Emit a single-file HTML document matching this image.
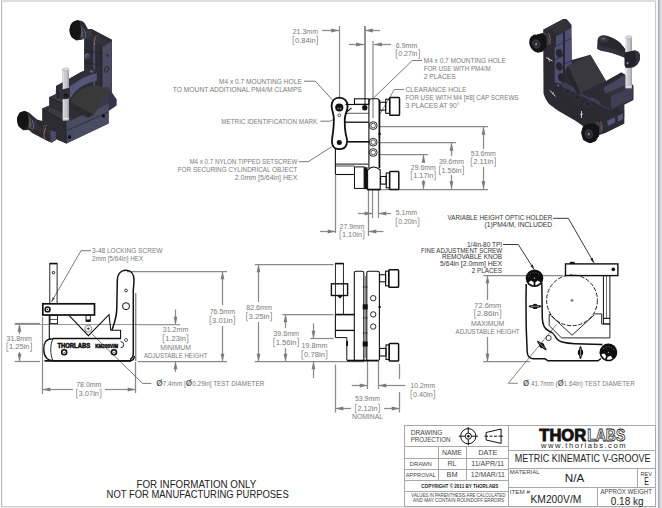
<!DOCTYPE html>
<html><head><meta charset="utf-8"><style>
html,body{margin:0;padding:0;background:#fff;width:662px;height:508px;overflow:hidden;}
svg{display:block;font-family:"Liberation Sans",sans-serif;}
</style></head><body>
<svg width="662" height="508" viewBox="0 0 662 508" font-family="Liberation Sans, sans-serif"><rect x="1" y="0" width="661" height="2" fill="#dedede"/>
<rect x="1" y="1" width="1" height="506" fill="#bdbdbd"/>
<rect x="2" y="2" width="1" height="504" fill="#f0f0f0"/>
<rect x="1" y="506" width="661" height="1" fill="#d0d0d0"/>
<rect x="1" y="507" width="661" height="1" fill="#e8e8e8"/>
<rect x="655" y="2" width="1" height="504" fill="#c8c8c8"/>
<rect x="656" y="0" width="2" height="508" fill="#fafafa"/>
<rect x="658" y="0" width="1" height="508" fill="#a9a9b1"/>
<rect x="659" y="0" width="1" height="508" fill="#c4c4cc"/>
<rect x="660" y="0" width="1" height="508" fill="#d4d4dc"/>
<rect x="661" y="0" width="1" height="508" fill="#e2e2ea"/>
<line x1="339.5" y1="26" x2="339.5" y2="99" stroke="#8a8a8a" stroke-width="1.25" />
<line x1="365" y1="26" x2="365" y2="104" stroke="#777" stroke-width="1.6" />
<line x1="373" y1="41" x2="373" y2="118" stroke="#b4b4b4" stroke-width="1.9" />
<line x1="322" y1="30.5" x2="339" y2="30.5" stroke="#8a8a8a" stroke-width="1.25" />
<polygon points="339,30.5 331.2,32.4 331.2,28.6" fill="#7c7c7c" stroke="none" stroke-width="1" />
<line x1="365" y1="30.5" x2="380" y2="30.5" stroke="#8a8a8a" stroke-width="1.25" />
<polygon points="365,30.5 372.8,28.6 372.8,32.4" fill="#7c7c7c" stroke="none" stroke-width="1" />
<text x="292.7" y="33.50" font-size="6.4" fill="#7a7a7a" text-anchor="start" font-weight="normal" textLength="25.3" lengthAdjust="spacingAndGlyphs" >21.3mm</text>
<polyline points="294.7,36.1 293.09999999999997,36.1 293.09999999999997,44.699999999999996 294.7,44.699999999999996" stroke="#8c8c8c" stroke-width="0.75" fill="none" />
<polyline points="316.0,36.1 317.6,36.1 317.6,44.699999999999996 316.0,44.699999999999996" stroke="#8c8c8c" stroke-width="0.75" fill="none" />
<text x="295.09999999999997" y="42.60" font-size="6.4" fill="#7a7a7a" text-anchor="start" font-weight="normal" textLength="20.5" lengthAdjust="spacingAndGlyphs" >0.84in</text>
<line x1="349" y1="44.5" x2="364" y2="44.5" stroke="#8a8a8a" stroke-width="1.25" />
<polygon points="364,44.5 356.2,46.4 356.2,42.6" fill="#7c7c7c" stroke="none" stroke-width="1" />
<line x1="374" y1="44.5" x2="391" y2="44.5" stroke="#8a8a8a" stroke-width="1.25" />
<polygon points="374,44.5 381.8,42.6 381.8,46.4" fill="#7c7c7c" stroke="none" stroke-width="1" />
<text x="395.8" y="47.60" font-size="6.4" fill="#7a7a7a" text-anchor="start" font-weight="normal" textLength="21.5" lengthAdjust="spacingAndGlyphs" >6.9mm</text>
<polyline points="397.8,49.7 396.2,49.7 396.2,58.3 397.8,58.3" stroke="#8c8c8c" stroke-width="0.75" fill="none" />
<polyline points="418.0,49.7 419.6,49.7 419.6,58.3 418.0,58.3" stroke="#8c8c8c" stroke-width="0.75" fill="none" />
<text x="398.2" y="56.20" font-size="6.4" fill="#7a7a7a" text-anchor="start" font-weight="normal" textLength="19.4" lengthAdjust="spacingAndGlyphs" >0.27in</text>
<text x="423.7" y="62.70" font-size="6.4" fill="#7a7a7a" text-anchor="start" font-weight="normal" textLength="82.1" lengthAdjust="spacingAndGlyphs" >M4 x 0.7 MOUNTING HOLE</text>
<text x="423.7" y="70.70" font-size="6.4" fill="#7a7a7a" text-anchor="start" font-weight="normal" textLength="67" lengthAdjust="spacingAndGlyphs" >FOR USE WITH PM4/M</text>
<text x="423.7" y="78.90" font-size="6.4" fill="#7a7a7a" text-anchor="start" font-weight="normal" textLength="32" lengthAdjust="spacingAndGlyphs" >2 PLACES</text>
<polyline points="422,60.5 412.3,60.5 373.5,98" stroke="#555" stroke-width="0.8" fill="none" />
<text x="405.5" y="91.70" font-size="6.4" fill="#7a7a7a" text-anchor="start" font-weight="normal" textLength="61" lengthAdjust="spacingAndGlyphs" >CLEARANCE HOLE</text>
<text x="405.5" y="100.20" font-size="6.4" fill="#7a7a7a" text-anchor="start" font-weight="normal" textLength="113.1" lengthAdjust="spacingAndGlyphs" >FOR USE WITH M4 [#8] CAP SCREWS</text>
<text x="405.5" y="107.90" font-size="6.4" fill="#7a7a7a" text-anchor="start" font-weight="normal" textLength="54" lengthAdjust="spacingAndGlyphs" >3 PLACES AT 90°</text>
<polyline points="404,89.5 394.4,89.5 379.3,115" stroke="#666" stroke-width="0.8" fill="none" />
<text x="219" y="83.80" font-size="6.4" fill="#7a7a7a" text-anchor="start" font-weight="normal" textLength="82.8" lengthAdjust="spacingAndGlyphs" >M4 x 0.7 MOUNTING HOLE</text>
<text x="172.8" y="91.50" font-size="6.4" fill="#7a7a7a" text-anchor="start" font-weight="normal" textLength="129" lengthAdjust="spacingAndGlyphs" >TO MOUNT ADDITIONAL PM4/M CLAMPS</text>
<polyline points="304,81.2 315.3,81.2 333,100.5" stroke="#555" stroke-width="0.8" fill="none" />
<text x="221.2" y="124.00" font-size="6.4" fill="#7a7a7a" text-anchor="start" font-weight="normal" textLength="96" lengthAdjust="spacingAndGlyphs" >METRIC IDENTIFICATION MARK</text>
<polyline points="320.4,121.2 330,121.2 334.5,119" stroke="#555" stroke-width="0.8" fill="none" />
<text x="189.4" y="163.90" font-size="6.4" fill="#7a7a7a" text-anchor="start" font-weight="normal" textLength="107.9" lengthAdjust="spacingAndGlyphs" >M4 x 0.7 NYLON TIPPED SETSCREW</text>
<text x="177.7" y="172.10" font-size="6.4" fill="#7a7a7a" text-anchor="start" font-weight="normal" textLength="119.6" lengthAdjust="spacingAndGlyphs" >FOR SECURING CYLINDRICAL OBJECT</text>
<text x="234.8" y="180.20" font-size="6.4" fill="#7a7a7a" text-anchor="start" font-weight="normal" textLength="62.5" lengthAdjust="spacingAndGlyphs" >2.0mm [5/64in] HEX</text>
<polyline points="298.7,161.7 308.2,161.7 331.8,146.8" stroke="#555" stroke-width="0.8" fill="none" />
<line x1="380" y1="126.5" x2="488" y2="126.5" stroke="#8a8a8a" stroke-width="1.25" />
<line x1="380" y1="142.5" x2="456" y2="142.5" stroke="#8a8a8a" stroke-width="1.25" />
<line x1="380" y1="154.5" x2="428" y2="154.5" stroke="#8a8a8a" stroke-width="1.25" />
<line x1="381" y1="189.5" x2="488" y2="189.5" stroke="#8a8a8a" stroke-width="1.25" />
<line x1="423.5" y1="154.5" x2="423.5" y2="162" stroke="#8a8a8a" stroke-width="1.25" />
<polygon points="423.5,155 425.4,162.8 421.6,162.8" fill="#7c7c7c" stroke="none" stroke-width="1" />
<line x1="423.5" y1="180" x2="423.5" y2="189" stroke="#8a8a8a" stroke-width="1.25" />
<polygon points="423.5,189 421.6,181.2 425.4,181.2" fill="#7c7c7c" stroke="none" stroke-width="1" />
<text x="410.8" y="169.80" font-size="6.4" fill="#7a7a7a" text-anchor="start" font-weight="normal" textLength="24.9" lengthAdjust="spacingAndGlyphs" >29.6mm</text>
<polyline points="412.8,171.2 411.2,171.2 411.2,179.8 412.8,179.8" stroke="#8c8c8c" stroke-width="0.75" fill="none" />
<polyline points="433.7,171.2 435.3,171.2 435.3,179.8 433.7,179.8" stroke="#8c8c8c" stroke-width="0.75" fill="none" />
<text x="413.2" y="177.70" font-size="6.4" fill="#7a7a7a" text-anchor="start" font-weight="normal" textLength="20.1" lengthAdjust="spacingAndGlyphs" >1.17in</text>
<line x1="451.5" y1="142.5" x2="451.5" y2="156" stroke="#8a8a8a" stroke-width="1.25" />
<polygon points="451.5,143 453.4,150.8 449.6,150.8" fill="#7c7c7c" stroke="none" stroke-width="1" />
<line x1="451.5" y1="175" x2="451.5" y2="189" stroke="#8a8a8a" stroke-width="1.25" />
<polygon points="451.5,189 449.6,181.2 453.4,181.2" fill="#7c7c7c" stroke="none" stroke-width="1" />
<text x="439" y="163.70" font-size="6.4" fill="#7a7a7a" text-anchor="start" font-weight="normal" textLength="25" lengthAdjust="spacingAndGlyphs" >39.6mm</text>
<polyline points="441.0,166.0 439.4,166.0 439.4,174.60000000000002 441.0,174.60000000000002" stroke="#8c8c8c" stroke-width="0.75" fill="none" />
<polyline points="462.0,166.0 463.6,166.0 463.6,174.60000000000002 462.0,174.60000000000002" stroke="#8c8c8c" stroke-width="0.75" fill="none" />
<text x="441.4" y="172.50" font-size="6.4" fill="#7a7a7a" text-anchor="start" font-weight="normal" textLength="20.2" lengthAdjust="spacingAndGlyphs" >1.56in</text>
<line x1="483.5" y1="126.5" x2="483.5" y2="149" stroke="#8a8a8a" stroke-width="1.25" />
<polygon points="483.5,127 485.4,134.8 481.6,134.8" fill="#7c7c7c" stroke="none" stroke-width="1" />
<line x1="483.5" y1="167" x2="483.5" y2="189" stroke="#8a8a8a" stroke-width="1.25" />
<polygon points="483.5,189 481.6,181.2 485.4,181.2" fill="#7c7c7c" stroke="none" stroke-width="1" />
<text x="470.8" y="155.70" font-size="6.4" fill="#7a7a7a" text-anchor="start" font-weight="normal" textLength="25" lengthAdjust="spacingAndGlyphs" >53.6mm</text>
<polyline points="472.8,157.79999999999998 471.2,157.79999999999998 471.2,166.4 472.8,166.4" stroke="#8c8c8c" stroke-width="0.75" fill="none" />
<polyline points="493.8,157.79999999999998 495.40000000000003,157.79999999999998 495.40000000000003,166.4 493.8,166.4" stroke="#8c8c8c" stroke-width="0.75" fill="none" />
<text x="473.2" y="164.30" font-size="6.4" fill="#7a7a7a" text-anchor="start" font-weight="normal" textLength="20.2" lengthAdjust="spacingAndGlyphs" >2.11in</text>
<line x1="335.5" y1="177" x2="335.5" y2="233" stroke="#8a8a8a" stroke-width="1.25" />
<line x1="368.5" y1="190" x2="368.5" y2="236" stroke="#8a8a8a" stroke-width="1.25" />
<line x1="372.5" y1="190" x2="372.5" y2="218" stroke="#8a8a8a" stroke-width="1.25" />
<line x1="378.5" y1="190" x2="378.5" y2="218" stroke="#8a8a8a" stroke-width="1.25" />
<line x1="358" y1="213.5" x2="372" y2="213.5" stroke="#8a8a8a" stroke-width="1.25" />
<polygon points="372.5,213.5 364.7,215.4 364.7,211.6" fill="#7c7c7c" stroke="none" stroke-width="1" />
<line x1="379" y1="213.5" x2="391" y2="213.5" stroke="#8a8a8a" stroke-width="1.25" />
<polygon points="378.5,213.5 386.3,211.6 386.3,215.4" fill="#7c7c7c" stroke="none" stroke-width="1" />
<text x="395.8" y="215.30" font-size="6.4" fill="#7a7a7a" text-anchor="start" font-weight="normal" textLength="21.2" lengthAdjust="spacingAndGlyphs" >5.1mm</text>
<polyline points="397.8,217.89999999999998 396.2,217.89999999999998 396.2,226.5 397.8,226.5" stroke="#8c8c8c" stroke-width="0.75" fill="none" />
<polyline points="417.3,217.89999999999998 418.90000000000003,217.89999999999998 418.90000000000003,226.5 417.3,226.5" stroke="#8c8c8c" stroke-width="0.75" fill="none" />
<text x="398.2" y="224.40" font-size="6.4" fill="#7a7a7a" text-anchor="start" font-weight="normal" textLength="18.7" lengthAdjust="spacingAndGlyphs" >0.20in</text>
<line x1="320" y1="231.5" x2="335" y2="231.5" stroke="#8a8a8a" stroke-width="1.25" />
<polygon points="335.5,231.5 327.7,233.4 327.7,229.6" fill="#7c7c7c" stroke="none" stroke-width="1" />
<line x1="369" y1="231.5" x2="383.4" y2="231.5" stroke="#8a8a8a" stroke-width="1.25" />
<polygon points="368.5,231.5 376.3,229.6 376.3,233.4" fill="#7c7c7c" stroke="none" stroke-width="1" />
<text x="339.6" y="228.90" font-size="6.4" fill="#7a7a7a" text-anchor="start" font-weight="normal" textLength="24.8" lengthAdjust="spacingAndGlyphs" >27.9mm</text>
<polyline points="341.6,230.5 340.0,230.5 340.0,239.10000000000002 341.6,239.10000000000002" stroke="#8c8c8c" stroke-width="0.75" fill="none" />
<polyline points="362.4,230.5 364.00000000000006,230.5 364.00000000000006,239.10000000000002 362.4,239.10000000000002" stroke="#8c8c8c" stroke-width="0.75" fill="none" />
<text x="342.0" y="237.00" font-size="6.4" fill="#7a7a7a" text-anchor="start" font-weight="normal" textLength="20.0" lengthAdjust="spacingAndGlyphs" >1.10in</text>
<text x="92.1" y="252.90" font-size="6.4" fill="#7a7a7a" text-anchor="start" font-weight="normal" textLength="70.3" lengthAdjust="spacingAndGlyphs" >3-48 LOCKING SCREW</text>
<text x="92.1" y="260.60" font-size="6.4" fill="#7a7a7a" text-anchor="start" font-weight="normal" textLength="51" lengthAdjust="spacingAndGlyphs" >2mm [5/64in] HEX</text>
<polyline points="91,250.7 81,250.7 51.5,301.8" stroke="#555" stroke-width="0.8" fill="none" />
<polygon points="51.5,301.8 52.71,297.3 54.79,298.5" fill="#444" stroke="none" stroke-width="1" />
<line x1="14.7" y1="323.5" x2="40" y2="323.5" stroke="#8a8a8a" stroke-width="1.25" />
<line x1="14.7" y1="361.5" x2="40" y2="361.5" stroke="#8a8a8a" stroke-width="1.25" />
<line x1="19.5" y1="324" x2="19.5" y2="334" stroke="#8a8a8a" stroke-width="1.25" />
<polygon points="19.5,324 21.4,331.8 17.6,331.8" fill="#7c7c7c" stroke="none" stroke-width="1" />
<line x1="19.5" y1="352" x2="19.5" y2="361" stroke="#8a8a8a" stroke-width="1.25" />
<polygon points="19.5,361.5 17.6,353.7 21.4,353.7" fill="#7c7c7c" stroke="none" stroke-width="1" />
<text x="6.5" y="341.20" font-size="6.4" fill="#7a7a7a" text-anchor="start" font-weight="normal" textLength="25.5" lengthAdjust="spacingAndGlyphs" >31.8mm</text>
<polyline points="8.5,342.9 6.9,342.9 6.9,351.5 8.5,351.5" stroke="#8c8c8c" stroke-width="0.75" fill="none" />
<polyline points="30.0,342.9 31.6,342.9 31.6,351.5 30.0,351.5" stroke="#8c8c8c" stroke-width="0.75" fill="none" />
<text x="8.9" y="349.40" font-size="6.4" fill="#7a7a7a" text-anchor="start" font-weight="normal" textLength="20.7" lengthAdjust="spacingAndGlyphs" >1.25in</text>
<line x1="42.5" y1="317" x2="42.5" y2="394" stroke="#8a8a8a" stroke-width="1.25" />
<line x1="135.5" y1="362" x2="135.5" y2="393" stroke="#8a8a8a" stroke-width="1.25" />
<line x1="43" y1="389.5" x2="73" y2="389.5" stroke="#8a8a8a" stroke-width="1.25" />
<polygon points="42.5,389.5 50.3,387.6 50.3,391.4" fill="#7c7c7c" stroke="none" stroke-width="1" />
<line x1="105" y1="389.5" x2="135" y2="389.5" stroke="#8a8a8a" stroke-width="1.25" />
<polygon points="135.5,389.5 127.7,391.4 127.7,387.6" fill="#7c7c7c" stroke="none" stroke-width="1" />
<text x="76.2" y="386.70" font-size="6.4" fill="#7a7a7a" text-anchor="start" font-weight="normal" textLength="25.2" lengthAdjust="spacingAndGlyphs" >78.0mm</text>
<polyline points="78.2,389.3 76.60000000000001,389.3 76.60000000000001,397.90000000000003 78.2,397.90000000000003" stroke="#8c8c8c" stroke-width="0.75" fill="none" />
<polyline points="99.4,389.3 101.0,389.3 101.0,397.90000000000003 99.4,397.90000000000003" stroke="#8c8c8c" stroke-width="0.75" fill="none" />
<text x="78.60000000000001" y="395.80" font-size="6.4" fill="#7a7a7a" text-anchor="start" font-weight="normal" textLength="20.4" lengthAdjust="spacingAndGlyphs" >3.07in</text>
<line x1="127" y1="271.5" x2="227" y2="271.5" stroke="#8a8a8a" stroke-width="1.25" />
<line x1="137.7" y1="361.5" x2="227" y2="361.5" stroke="#8a8a8a" stroke-width="1.25" />
<line x1="222.5" y1="272" x2="222.5" y2="305" stroke="#8a8a8a" stroke-width="1.25" />
<polygon points="222.5,271.5 224.4,279.3 220.6,279.3" fill="#7c7c7c" stroke="none" stroke-width="1" />
<line x1="222.5" y1="326" x2="222.5" y2="361" stroke="#8a8a8a" stroke-width="1.25" />
<polygon points="222.5,361.5 220.6,353.7 224.4,353.7" fill="#7c7c7c" stroke="none" stroke-width="1" />
<text x="209.7" y="313.80" font-size="6.4" fill="#7a7a7a" text-anchor="start" font-weight="normal" textLength="25.4" lengthAdjust="spacingAndGlyphs" >76.5mm</text>
<polyline points="211.7,316.0 210.1,316.0 210.1,324.6 211.7,324.6" stroke="#8c8c8c" stroke-width="0.75" fill="none" />
<polyline points="233.1,316.0 234.7,316.0 234.7,324.6 233.1,324.6" stroke="#8c8c8c" stroke-width="0.75" fill="none" />
<text x="212.1" y="322.50" font-size="6.4" fill="#7a7a7a" text-anchor="start" font-weight="normal" textLength="20.6" lengthAdjust="spacingAndGlyphs" >3.01in</text>
<line x1="137.2" y1="324.5" x2="180" y2="324.5" stroke="#8a8a8a" stroke-width="1.25" />
<line x1="175.5" y1="309.5" x2="175.5" y2="324" stroke="#8a8a8a" stroke-width="1.25" />
<polygon points="175.5,324.5 173.6,316.7 177.4,316.7" fill="#7c7c7c" stroke="none" stroke-width="1" />
<line x1="175.5" y1="362" x2="175.5" y2="372" stroke="#8a8a8a" stroke-width="1.25" />
<polygon points="175.5,361.5 177.4,369.3 173.6,369.3" fill="#7c7c7c" stroke="none" stroke-width="1" />
<text x="162.8" y="331.60" font-size="6.4" fill="#7a7a7a" text-anchor="start" font-weight="normal" textLength="25.5" lengthAdjust="spacingAndGlyphs" >31.2mm</text>
<polyline points="164.8,334.4 163.20000000000002,334.4 163.20000000000002,343.0 164.8,343.0" stroke="#8c8c8c" stroke-width="0.75" fill="none" />
<polyline points="186.3,334.4 187.9,334.4 187.9,343.0 186.3,343.0" stroke="#8c8c8c" stroke-width="0.75" fill="none" />
<text x="165.20000000000002" y="340.90" font-size="6.4" fill="#7a7a7a" text-anchor="start" font-weight="normal" textLength="20.7" lengthAdjust="spacingAndGlyphs" >1.23in</text>
<text x="160.3" y="349.70" font-size="6.4" fill="#7a7a7a" text-anchor="start" font-weight="normal" textLength="30.7" lengthAdjust="spacingAndGlyphs" >MINIMUM</text>
<text x="144" y="357.90" font-size="6.4" fill="#7a7a7a" text-anchor="start" font-weight="normal" textLength="63.4" lengthAdjust="spacingAndGlyphs" >ADJUSTABLE HEIGHT</text>
<polyline points="91.6,333.6 142.6,383.4 151.4,383.4" stroke="#555" stroke-width="0.8" fill="none" />
<text x="156.3" y="385.60" font-size="6.4" fill="#7a7a7a" text-anchor="start" font-weight="normal" textLength="108" lengthAdjust="spacingAndGlyphs" ><tspan font-weight="bold" fill="#666" font-size="8.2">Ø</tspan>7.4mm [<tspan font-weight="bold" fill="#666" font-size="8.2">Ø</tspan>0.29in] TEST DIAMETER</text>
<line x1="254.8" y1="264.5" x2="333.6" y2="264.5" stroke="#8a8a8a" stroke-width="1.25" />
<line x1="258.5" y1="265" x2="258.5" y2="302" stroke="#8a8a8a" stroke-width="1.25" />
<polygon points="258.5,264.5 260.4,272.3 256.6,272.3" fill="#7c7c7c" stroke="none" stroke-width="1" />
<line x1="258.5" y1="322" x2="258.5" y2="361" stroke="#8a8a8a" stroke-width="1.25" />
<polygon points="258.5,361.5 256.6,353.7 260.4,353.7" fill="#7c7c7c" stroke="none" stroke-width="1" />
<text x="246.2" y="310.20" font-size="6.4" fill="#7a7a7a" text-anchor="start" font-weight="normal" textLength="25.8" lengthAdjust="spacingAndGlyphs" >82.6mm</text>
<polyline points="248.2,312.3 246.6,312.3 246.6,320.90000000000003 248.2,320.90000000000003" stroke="#8c8c8c" stroke-width="0.75" fill="none" />
<polyline points="270.0,312.3 271.6,312.3 271.6,320.90000000000003 270.0,320.90000000000003" stroke="#8c8c8c" stroke-width="0.75" fill="none" />
<text x="248.6" y="318.80" font-size="6.4" fill="#7a7a7a" text-anchor="start" font-weight="normal" textLength="21.0" lengthAdjust="spacingAndGlyphs" >3.25in</text>
<line x1="282.4" y1="314.5" x2="333.6" y2="314.5" stroke="#8a8a8a" stroke-width="1.25" />
<line x1="285.5" y1="315" x2="285.5" y2="328" stroke="#8a8a8a" stroke-width="1.25" />
<polygon points="285.5,314.5 287.4,322.3 283.6,322.3" fill="#7c7c7c" stroke="none" stroke-width="1" />
<line x1="285.5" y1="348" x2="285.5" y2="361" stroke="#8a8a8a" stroke-width="1.25" />
<polygon points="285.5,361.5 283.6,353.7 287.4,353.7" fill="#7c7c7c" stroke="none" stroke-width="1" />
<text x="273.3" y="336.00" font-size="6.4" fill="#7a7a7a" text-anchor="start" font-weight="normal" textLength="25.7" lengthAdjust="spacingAndGlyphs" >39.6mm</text>
<polyline points="275.3,338.09999999999997 273.7,338.09999999999997 273.7,346.7 275.3,346.7" stroke="#8c8c8c" stroke-width="0.75" fill="none" />
<polyline points="297.0,338.09999999999997 298.6,338.09999999999997 298.6,346.7 297.0,346.7" stroke="#8c8c8c" stroke-width="0.75" fill="none" />
<text x="275.7" y="344.60" font-size="6.4" fill="#7a7a7a" text-anchor="start" font-weight="normal" textLength="20.9" lengthAdjust="spacingAndGlyphs" >1.56in</text>
<line x1="310.2" y1="338.5" x2="333.6" y2="338.5" stroke="#8a8a8a" stroke-width="1.25" />
<line x1="313.5" y1="323.5" x2="313.5" y2="338" stroke="#8a8a8a" stroke-width="1.25" />
<polygon points="313.5,338.5 311.6,330.7 315.4,330.7" fill="#7c7c7c" stroke="none" stroke-width="1" />
<line x1="313.5" y1="362" x2="313.5" y2="378" stroke="#8a8a8a" stroke-width="1.25" />
<polygon points="313.5,361.5 315.4,369.3 311.6,369.3" fill="#7c7c7c" stroke="none" stroke-width="1" />
<text x="301.6" y="348.30" font-size="6.4" fill="#7a7a7a" text-anchor="start" font-weight="normal" textLength="25.8" lengthAdjust="spacingAndGlyphs" >19.8mm</text>
<polyline points="303.6,350.5 302.0,350.5 302.0,359.1 303.6,359.1" stroke="#8c8c8c" stroke-width="0.75" fill="none" />
<polyline points="325.4,350.5 327.00000000000006,350.5 327.00000000000006,359.1 325.4,359.1" stroke="#8c8c8c" stroke-width="0.75" fill="none" />
<text x="304.0" y="357.00" font-size="6.4" fill="#7a7a7a" text-anchor="start" font-weight="normal" textLength="21.0" lengthAdjust="spacingAndGlyphs" >0.78in</text>
<line x1="254.8" y1="361.5" x2="364" y2="361.5" stroke="#8a8a8a" stroke-width="1.25" />
<line x1="335.5" y1="364.6" x2="335.5" y2="412.6" stroke="#8a8a8a" stroke-width="1.25" />
<line x1="367.5" y1="361" x2="367.5" y2="389" stroke="#8a8a8a" stroke-width="1.25" />
<line x1="378.5" y1="361" x2="378.5" y2="389" stroke="#8a8a8a" stroke-width="1.25" />
<line x1="399.5" y1="364" x2="399.5" y2="379" stroke="#8a8a8a" stroke-width="1.25" />
<line x1="399.5" y1="392" x2="399.5" y2="412.6" stroke="#8a8a8a" stroke-width="1.25" />
<line x1="351.7" y1="385.5" x2="367" y2="385.5" stroke="#8a8a8a" stroke-width="1.25" />
<polygon points="367.5,385.5 359.7,387.4 359.7,383.6" fill="#7c7c7c" stroke="none" stroke-width="1" />
<line x1="379" y1="385.5" x2="405.2" y2="385.5" stroke="#8a8a8a" stroke-width="1.25" />
<polygon points="378.5,385.5 386.3,383.6 386.3,387.4" fill="#7c7c7c" stroke="none" stroke-width="1" />
<text x="410.6" y="388.20" font-size="6.4" fill="#7a7a7a" text-anchor="start" font-weight="normal" textLength="24.5" lengthAdjust="spacingAndGlyphs" >10.2mm</text>
<polyline points="412.6,390.2 411.0,390.2 411.0,398.8 412.6,398.8" stroke="#8c8c8c" stroke-width="0.75" fill="none" />
<polyline points="433.1,390.2 434.70000000000005,390.2 434.70000000000005,398.8 433.1,398.8" stroke="#8c8c8c" stroke-width="0.75" fill="none" />
<text x="413.0" y="396.70" font-size="6.4" fill="#7a7a7a" text-anchor="start" font-weight="normal" textLength="19.7" lengthAdjust="spacingAndGlyphs" >0.40in</text>
<line x1="336" y1="408.5" x2="351" y2="408.5" stroke="#8a8a8a" stroke-width="1.25" />
<polygon points="335.5,408.5 343.3,406.6 343.3,410.4" fill="#7c7c7c" stroke="none" stroke-width="1" />
<line x1="384" y1="408.5" x2="399" y2="408.5" stroke="#8a8a8a" stroke-width="1.25" />
<polygon points="399.5,408.5 391.7,410.4 391.7,406.6" fill="#7c7c7c" stroke="none" stroke-width="1" />
<text x="367.5" y="401.20" font-size="6.4" fill="#7a7a7a" text-anchor="middle" font-weight="normal" textLength="25" lengthAdjust="spacingAndGlyphs" >53.9mm</text>
<polyline points="357.0,404.09999999999997 355.4,404.09999999999997 355.4,412.7 357.0,412.7" stroke="#8c8c8c" stroke-width="0.75" fill="none" />
<polyline points="378.0,404.09999999999997 379.6,404.09999999999997 379.6,412.7 378.0,412.7" stroke="#8c8c8c" stroke-width="0.75" fill="none" />
<text x="357.4" y="410.60" font-size="6.4" fill="#7a7a7a" text-anchor="start" font-weight="normal" textLength="20.2" lengthAdjust="spacingAndGlyphs" >2.12in</text>
<text x="367.5" y="419.00" font-size="6.4" fill="#7a7a7a" text-anchor="middle" font-weight="normal" textLength="31" lengthAdjust="spacingAndGlyphs" >NOMINAL</text>
<text x="447.5" y="219.90" font-size="6.4" fill="#333" text-anchor="start" font-weight="normal" textLength="104.7" lengthAdjust="spacingAndGlyphs" >VARIABLE HEIGHT OPTIC HOLDER</text>
<text x="484.5" y="226.90" font-size="6.4" fill="#333" text-anchor="start" font-weight="normal" textLength="67.7" lengthAdjust="spacingAndGlyphs" >(1)PM4/M, INCLUDED</text>
<polyline points="553.2,218.3 568.3,218.3 594,262.9" stroke="#222" stroke-width="0.9" fill="none" />
<polygon points="594,262.9 590.29,259.27 592.72,257.87" fill="#222" stroke="none" stroke-width="1" />
<text x="502" y="246.70" font-size="6.4" fill="#333" text-anchor="end" font-weight="normal" textLength="35" lengthAdjust="spacingAndGlyphs" >1/4in-80 TPI</text>
<text x="502" y="252.70" font-size="6.4" fill="#333" text-anchor="end" font-weight="normal" textLength="81" lengthAdjust="spacingAndGlyphs" >FINE ADJUSTMENT SCREW</text>
<text x="502" y="259.40" font-size="6.4" fill="#333" text-anchor="end" font-weight="normal" textLength="60" lengthAdjust="spacingAndGlyphs" >REMOVABLE KNOB</text>
<text x="502" y="266.40" font-size="6.4" fill="#333" text-anchor="end" font-weight="normal" textLength="62" lengthAdjust="spacingAndGlyphs" >5/64in [2.0mm] HEX</text>
<text x="502" y="272.80" font-size="6.4" fill="#333" text-anchor="end" font-weight="normal" textLength="30.2" lengthAdjust="spacingAndGlyphs" >2 PLACES</text>
<polyline points="503,244.5 518.3,244.5 534.2,269.5" stroke="#222" stroke-width="0.9" fill="none" />
<polygon points="534.2,269.5 530.34,266.03 532.7,264.53" fill="#222" stroke="none" stroke-width="1" />
<line x1="483.3" y1="275.5" x2="563" y2="275.5" stroke="#8a8a8a" stroke-width="1.25" />
<line x1="483.3" y1="361.5" x2="530" y2="361.5" stroke="#8a8a8a" stroke-width="1.25" />
<line x1="487.5" y1="276" x2="487.5" y2="300" stroke="#8a8a8a" stroke-width="1.25" />
<polygon points="487.5,275.5 489.4,283.3 485.6,283.3" fill="#7c7c7c" stroke="none" stroke-width="1" />
<line x1="487.5" y1="337" x2="487.5" y2="361" stroke="#8a8a8a" stroke-width="1.25" />
<polygon points="487.5,361.5 485.6,353.7 489.4,353.7" fill="#7c7c7c" stroke="none" stroke-width="1" />
<text x="474.3" y="307.50" font-size="6.4" fill="#7a7a7a" text-anchor="start" font-weight="normal" textLength="26.9" lengthAdjust="spacingAndGlyphs" >72.6mm</text>
<polyline points="476.3,309.7 474.7,309.7 474.7,318.3 476.3,318.3" stroke="#8c8c8c" stroke-width="0.75" fill="none" />
<polyline points="499.2,309.7 500.8,309.7 500.8,318.3 499.2,318.3" stroke="#8c8c8c" stroke-width="0.75" fill="none" />
<text x="476.7" y="316.20" font-size="6.4" fill="#7a7a7a" text-anchor="start" font-weight="normal" textLength="22.1" lengthAdjust="spacingAndGlyphs" >2.86in</text>
<text x="471" y="325.90" font-size="6.4" fill="#7a7a7a" text-anchor="start" font-weight="normal" textLength="33.2" lengthAdjust="spacingAndGlyphs" >MAXIMUM</text>
<text x="455.6" y="333.60" font-size="6.4" fill="#7a7a7a" text-anchor="start" font-weight="normal" textLength="64" lengthAdjust="spacingAndGlyphs" >ADJUSTABLE HEIGHT</text>
<polyline points="556.5,324.4 508.3,383.3 517.8,383.3" stroke="#666" stroke-width="0.8" fill="none" />
<text x="522.9" y="386.00" font-size="6.4" fill="#7a7a7a" text-anchor="start" font-weight="normal" textLength="111.9" lengthAdjust="spacingAndGlyphs" ><tspan font-weight="bold" fill="#666" font-size="8.2">Ø</tspan> 41.7mm (<tspan font-weight="bold" fill="#666" font-size="8.2">Ø</tspan>1.64in) TEST DIAMETER</text>
<text x="136.5" y="487.51" font-size="10.2" fill="#222" text-anchor="start" font-weight="normal" textLength="119.7" lengthAdjust="spacingAndGlyphs" >FOR INFORMATION ONLY</text>
<text x="106.6" y="497.51" font-size="10.2" fill="#222" text-anchor="start" font-weight="normal" textLength="182.1" lengthAdjust="spacingAndGlyphs" >NOT FOR MANUFACTURING PURPOSES</text>
<rect x="404.5" y="425.5" width="251" height="81" fill="none" stroke="#a8a8a8" stroke-width="1"/>
<line x1="508.5" y1="425.5" x2="508.5" y2="506" stroke="#a8a8a8" stroke-width="1" />
<line x1="404.5" y1="446.5" x2="508.5" y2="446.5" stroke="#a8a8a8" stroke-width="1" />
<line x1="404.5" y1="458.5" x2="508.5" y2="458.5" stroke="#a8a8a8" stroke-width="1" />
<line x1="404.5" y1="469.5" x2="508.5" y2="469.5" stroke="#a8a8a8" stroke-width="1" />
<line x1="404.5" y1="480.5" x2="508.5" y2="480.5" stroke="#a8a8a8" stroke-width="1" />
<line x1="404.5" y1="491.5" x2="508.5" y2="491.5" stroke="#a8a8a8" stroke-width="1" />
<line x1="438.5" y1="446.5" x2="438.5" y2="480.5" stroke="#a8a8a8" stroke-width="1" />
<line x1="466.5" y1="446.5" x2="466.5" y2="480.5" stroke="#a8a8a8" stroke-width="1" />
<line x1="508.5" y1="450.5" x2="655.5" y2="450.5" stroke="#a8a8a8" stroke-width="1" />
<line x1="508.5" y1="468.5" x2="655.5" y2="468.5" stroke="#a8a8a8" stroke-width="1" />
<line x1="508.5" y1="487.5" x2="655.5" y2="487.5" stroke="#a8a8a8" stroke-width="1" />
<line x1="637.5" y1="468.5" x2="637.5" y2="487.5" stroke="#a8a8a8" stroke-width="1" />
<line x1="597.5" y1="487.5" x2="597.5" y2="506" stroke="#a8a8a8" stroke-width="1" />
<text x="410.7" y="434.91" font-size="7" fill="#444" text-anchor="start" font-weight="normal" textLength="31.7" lengthAdjust="spacingAndGlyphs" >DRAWING</text>
<text x="410.7" y="441.81" font-size="7" fill="#444" text-anchor="start" font-weight="normal" textLength="39.9" lengthAdjust="spacingAndGlyphs" >PROJECTION</text>
<circle cx="468.3" cy="436.2" r="7.6" fill="none" stroke="#111" stroke-width="1.0" />
<circle cx="468.3" cy="436.2" r="3.1" fill="none" stroke="#111" stroke-width="1.0" />
<circle cx="468.3" cy="436.2" r="1.3" fill="#111" stroke="none" stroke-width="1.2" />
<line x1="458.7" y1="436.2" x2="465.2" y2="436.2" stroke="#111" stroke-width="1" />
<line x1="471.4" y1="436.2" x2="477.9" y2="436.2" stroke="#111" stroke-width="1" />
<line x1="468.3" y1="427.1" x2="468.3" y2="433.1" stroke="#111" stroke-width="1" />
<line x1="468.3" y1="439.3" x2="468.3" y2="445.3" stroke="#111" stroke-width="1" />
<polygon points="486.1,432.5 501.1,429 501.1,443.4 486.1,440" fill="none" stroke="#111" stroke-width="1.0" />
<line x1="484.5" y1="436.2" x2="488" y2="436.2" stroke="#111" stroke-width="1" />
<line x1="489.5" y1="436.2" x2="492.5" y2="436.2" stroke="#111" stroke-width="1" />
<line x1="494" y1="436.2" x2="497" y2="436.2" stroke="#111" stroke-width="1" />
<line x1="498.5" y1="436.2" x2="502.8" y2="436.2" stroke="#111" stroke-width="1" />
<text x="452" y="454.87" font-size="6.6" fill="#444" text-anchor="middle" font-weight="normal" textLength="20" lengthAdjust="spacingAndGlyphs" >NAME</text>
<text x="487.8" y="454.87" font-size="6.6" fill="#444" text-anchor="middle" font-weight="normal" textLength="19" lengthAdjust="spacingAndGlyphs" >DATE</text>
<text x="420.8" y="465.80" font-size="5.8" fill="#444" text-anchor="middle" font-weight="normal" textLength="22" lengthAdjust="spacingAndGlyphs" >DRAWN</text>
<text x="452" y="466.07" font-size="6.6" fill="#444" text-anchor="middle" font-weight="normal" textLength="9" lengthAdjust="spacingAndGlyphs" >RL</text>
<text x="487.8" y="466.07" font-size="6.6" fill="#444" text-anchor="middle" font-weight="normal" textLength="33" lengthAdjust="spacingAndGlyphs" >11/APR/11</text>
<text x="420.8" y="477.10" font-size="5.8" fill="#444" text-anchor="middle" font-weight="normal" textLength="30" lengthAdjust="spacingAndGlyphs" >APPROVAL</text>
<text x="452" y="477.37" font-size="6.6" fill="#444" text-anchor="middle" font-weight="normal" textLength="11" lengthAdjust="spacingAndGlyphs" >BM</text>
<text x="487.8" y="477.37" font-size="6.6" fill="#444" text-anchor="middle" font-weight="normal" textLength="34" lengthAdjust="spacingAndGlyphs" >12/MAR/11</text>
<text x="459.8" y="487.59" font-size="5.2" fill="#222" text-anchor="middle" font-weight="bold" textLength="77" lengthAdjust="spacingAndGlyphs" >COPYRIGHT © 2011 BY THORLABS</text>
<text x="458.3" y="496.58" font-size="4.6" fill="#444" text-anchor="middle" font-weight="normal" textLength="94" lengthAdjust="spacingAndGlyphs" >VALUES IN PARENTHESIS ARE CALCULATED</text>
<text x="458.6" y="502.08" font-size="4.6" fill="#444" text-anchor="middle" font-weight="normal" textLength="91" lengthAdjust="spacingAndGlyphs" >AND MAY CONTAIN ROUNDOFF ERRORS</text>
<text x="539.3" y="440.64" font-size="16.1" fill="#111" text-anchor="start" font-weight="bold" textLength="46.8" lengthAdjust="spacingAndGlyphs" stroke="#111" stroke-width="0.9">THOR</text>
<text x="587.2" y="440.64" font-size="16.1" fill="#fff" text-anchor="start" font-weight="bold" textLength="38" lengthAdjust="spacingAndGlyphs" stroke="#111" stroke-width="0.8">LABS</text>
<text x="541" y="447.8" font-size="7.6" fill="#222" textLength="84.5" lengthAdjust="spacing">www.thorlabs.com</text>
<text x="514.7" y="462.04" font-size="10" fill="#222" text-anchor="start" font-weight="normal" textLength="135.8" lengthAdjust="spacingAndGlyphs" >METRIC KINEMATIC V-GROOVE</text>
<text x="509.8" y="473.63" font-size="6.2" fill="#444" text-anchor="start" font-weight="normal" textLength="29.8" lengthAdjust="spacingAndGlyphs" >MATERIAL</text>
<text x="574.6" y="482.08" font-size="10.4" fill="#222" text-anchor="middle" font-weight="normal" textLength="19.5" lengthAdjust="spacingAndGlyphs" >N/A</text>
<text x="640.4" y="475.73" font-size="6.2" fill="#444" text-anchor="start" font-weight="normal" textLength="11.6" lengthAdjust="spacingAndGlyphs" >REV</text>
<text x="646.5" y="484.61" font-size="10.5" fill="#222" text-anchor="middle" font-weight="normal" textLength="4.7" lengthAdjust="spacingAndGlyphs" >E</text>
<text x="509.8" y="493.53" font-size="6.2" fill="#444" text-anchor="start" font-weight="normal" textLength="20.2" lengthAdjust="spacingAndGlyphs" >ITEM #</text>
<text x="530.5" y="503.21" font-size="10.5" fill="#222" text-anchor="start" font-weight="normal" textLength="50.8" lengthAdjust="spacingAndGlyphs" >KM200V/M</text>
<text x="600.4" y="493.90" font-size="6.4" fill="#444" text-anchor="start" font-weight="normal" textLength="51.6" lengthAdjust="spacingAndGlyphs" >APPROX WEIGHT</text>
<text x="610.7" y="504.71" font-size="10.5" fill="#222" text-anchor="start" font-weight="normal" textLength="32.9" lengthAdjust="spacingAndGlyphs" >0.18 kg</text>
<path d="M 339.3 97.6 C 344.5 97.6 347.8 101.5 347.6 106.5 C 347.4 111 345 114 344.8 119 C 344.6 126 345 132 346.5 137 C 347.8 141 347.6 149.2 339.3 149.2 C 332 149.2 331.3 143 332.2 138 C 333.5 130 334 124 333.8 118 C 333.6 113 331.5 110 331.6 105.5 C 331.8 101 334.5 97.6 339.3 97.6 Z" fill="none" stroke="#111" stroke-width="1.8" />
<circle cx="339.3" cy="107.5" r="4.1" fill="#111" stroke="none" stroke-width="1.2" />
<circle cx="338.3" cy="108.5" r="1.0" fill="#666" stroke="none" stroke-width="1.2" />
<circle cx="340.5" cy="108.5" r="1.0" fill="#666" stroke="none" stroke-width="1.2" />
<circle cx="339.3" cy="115.3" r="1.4" fill="none" stroke="#111" stroke-width="0.7" />
<circle cx="339.3" cy="142.6" r="2.5" fill="#111" stroke="none" stroke-width="1.2" />
<line x1="345.5" y1="104.5" x2="369" y2="104.5" stroke="#111" stroke-width="1.1" />
<rect x="354.5" y="98.8" width="14.4" height="5.5" rx="0" fill="none" stroke="#111" stroke-width="1.1" />
<line x1="345.5" y1="113.3" x2="369" y2="113.3" stroke="#111" stroke-width="0.7" />
<line x1="344.8" y1="122.2" x2="369" y2="122.2" stroke="#111" stroke-width="1.3" />
<circle cx="364.8" cy="107.7" r="2.7" fill="#111" stroke="none" stroke-width="1.2" />
<line x1="346.5" y1="112" x2="351.5" y2="108" stroke="#111" stroke-width="1.1" />
<line x1="347.6" y1="141.8" x2="369" y2="141.8" stroke="#111" stroke-width="1.6" />
<line x1="335.4" y1="149" x2="335.4" y2="174.5" stroke="#111" stroke-width="1.1" />
<line x1="335.4" y1="164.1" x2="368.2" y2="164.1" stroke="#111" stroke-width="1.0" />
<line x1="335.4" y1="166.0" x2="354.5" y2="166.0" stroke="#111" stroke-width="0.8" />
<line x1="335.4" y1="174.5" x2="355" y2="174.5" stroke="#111" stroke-width="1.1" />
<rect x="354.5" y="166.9" width="9.6" height="21.5" rx="0" fill="none" stroke="#111" stroke-width="1.0" />
<rect x="364.1" y="167.2" width="3.4" height="22" rx="0" fill="#111" stroke="none" stroke-width="1.2" />
<path d="M 367.6 189.6 L 367.6 170 Q 373.5 164 380.2 170 L 380.2 189.6 Z" fill="none" stroke="#111" stroke-width="1.1" />
<line x1="367.6" y1="189.5" x2="380.2" y2="189.5" stroke="#111" stroke-width="1.6" />
<rect x="380.6" y="176.5" width="5.6" height="7.6" rx="0" fill="none" stroke="#111" stroke-width="1.1" />
<rect x="386.2" y="173" width="3.4" height="14.8" rx="0" fill="none" stroke="#111" stroke-width="1.1" />
<rect x="389.6" y="171.4" width="9.2" height="18.2" rx="0.8" fill="none" stroke="#111" stroke-width="1.5" />
<path d="M 368.9 168 L 368.9 101.5 Q 368.9 98.8 371.5 98.8 L 377 98.8 Q 379.3 98.8 379.3 101.5 L 379.3 168" fill="none" stroke="#111" stroke-width="1.1" />
<line x1="379.5" y1="100" x2="379.5" y2="168" stroke="#111" stroke-width="1.6" />
<circle cx="373.2" cy="125.6" r="3.9" fill="none" stroke="#111" stroke-width="0.9" />
<circle cx="373.2" cy="125.6" r="2.3" fill="none" stroke="#111" stroke-width="0.7" />
<circle cx="373.2" cy="142.2" r="3.9" fill="none" stroke="#111" stroke-width="0.9" />
<circle cx="373.2" cy="142.2" r="2.3" fill="none" stroke="#111" stroke-width="0.7" />
<circle cx="373.2" cy="152.5" r="3.9" fill="none" stroke="#111" stroke-width="0.9" />
<circle cx="373.2" cy="152.5" r="2.3" fill="none" stroke="#111" stroke-width="0.7" />
<circle cx="379.6" cy="134" r="1.3" fill="#111" stroke="none" stroke-width="1.2" />
<rect x="379.8" y="102.3" width="5.9" height="7.9" rx="0" fill="none" stroke="#111" stroke-width="1.1" />
<rect x="385.7" y="99.2" width="4" height="14.1" rx="0" fill="none" stroke="#111" stroke-width="1.1" />
<rect x="389.7" y="97.6" width="9.8" height="17.7" rx="0.8" fill="none" stroke="#111" stroke-width="1.5" />
<line x1="335.5" y1="174.5" x2="335.5" y2="177" stroke="#8a8a8a" stroke-width="1.25" />
<line x1="14.7" y1="324.5" x2="180" y2="324.5" stroke="#9a9a9a" stroke-width="1" />
<rect x="49.8" y="263.4" width="7.3" height="40.2" rx="0" fill="none" stroke="#111" stroke-width="0.9" />
<line x1="49.8" y1="263.6" x2="57.1" y2="263.6" stroke="#111" stroke-width="1.6" />
<circle cx="53.4" cy="272.6" r="1.2" fill="none" stroke="#111" stroke-width="1.0" />
<rect x="42.8" y="303.8" width="51.7" height="11.2" rx="0" fill="none" stroke="#111" stroke-width="1.7" />
<circle cx="47.6" cy="309.4" r="2.4" fill="none" stroke="#111" stroke-width="1.6" />
<circle cx="47.6" cy="309.4" r="0.7" fill="#111" stroke="none" stroke-width="1.2" />
<rect x="50" y="315.2" width="7.6" height="8.4" rx="0" fill="none" stroke="#111" stroke-width="0.9" />
<line x1="50" y1="319.5" x2="57.6" y2="319.5" stroke="#111" stroke-width="0.7" />
<rect x="86" y="315.2" width="4.3" height="6.2" rx="0" fill="none" stroke="#111" stroke-width="0.9" />
<rect x="86" y="319.5" width="4.3" height="2" rx="0" fill="#111" stroke="none" stroke-width="1.2" />
<circle cx="88.3" cy="328.7" r="3.4" fill="none" stroke="#555" stroke-width="0.7" />
<line x1="86.8" y1="328.7" x2="89.8" y2="328.7" stroke="#111" stroke-width="0.7" />
<line x1="88.3" y1="327.2" x2="88.3" y2="330.2" stroke="#111" stroke-width="0.7" />
<line x1="49.3" y1="315.2" x2="49.3" y2="339" stroke="#111" stroke-width="1.1" />
<polyline points="69,315.4 88.4,335.6 109,314.6 110.8,330.2 120.6,330.2 120.6,338.5" stroke="#111" stroke-width="1.1" fill="none" />
<path d="M 52.7 338.5 L 121 338.5 M 52.7 338.7 C 45 338.7 43.5 344 43.8 350 C 44 356 47 360.7 54 360.7 L 130 360.7 Q 134.3 360.5 134.4 356" fill="none" stroke="#111" stroke-width="1.4" />
<line x1="44.5" y1="360.9" x2="131" y2="360.9" stroke="#111" stroke-width="1.8" />
<path d="M 53 339 C 50 344 50 355 53 360.5" fill="none" stroke="#111" stroke-width="0.9" />
<text x="57.4" y="347.6" font-size="6.7" font-weight="bold" fill="#111" stroke="#111" stroke-width="0.55" textLength="32.8" lengthAdjust="spacingAndGlyphs">THORLABS</text>
<text x="95.3" y="347.6" font-size="5.0" font-weight="bold" fill="#111" stroke="#111" stroke-width="0.45" textLength="22.7" lengthAdjust="spacingAndGlyphs">KM200V/M</text>
<circle cx="64.2" cy="352.3" r="2.5" fill="none" stroke="#111" stroke-width="1.6" />
<circle cx="64.2" cy="352.3" r="0.6" fill="#111" stroke="none" stroke-width="1.2" />
<circle cx="114" cy="352.3" r="2.5" fill="none" stroke="#111" stroke-width="1.6" />
<circle cx="114" cy="352.3" r="0.6" fill="#111" stroke="none" stroke-width="1.2" />
<circle cx="126" cy="340" r="1.5" fill="none" stroke="#111" stroke-width="0.7" />
<path d="M 120.6 341.6 A 3 3 0 0 1 120.6 347.8" fill="none" stroke="#111" stroke-width="0.9" />
<path d="M 112 330 C 114.5 323 116.8 317 116.8 308 L 117.3 281 C 117.3 274 121 270.3 126 270.3 C 131 270.3 134 274 134 280 L 133.6 287 C 133.3 289.5 133 291 133.3 293 L 133.3 353 Q 133.3 358 130 359.5" fill="none" stroke="#111" stroke-width="1.5" />
<line x1="135.8" y1="293" x2="135.8" y2="361" stroke="#111" stroke-width="0.7" />
<circle cx="126" cy="290.5" r="1.4" fill="none" stroke="#111" stroke-width="0.8" />
<circle cx="126" cy="306.2" r="3.5" fill="none" stroke="#111" stroke-width="1.0" />
<rect x="335.4" y="263.4" width="8" height="51" rx="0" fill="none" stroke="#111" stroke-width="0.9" />
<line x1="335.4" y1="263.6" x2="343.4" y2="263.6" stroke="#111" stroke-width="1.6" />
<rect x="331.4" y="283.8" width="16.2" height="11.7" rx="0" fill="none" stroke="#111" stroke-width="1.4" />
<path d="M 337 295.5 L 343 295.5 L 340 298.5 Z" fill="#111" stroke="none" stroke-width="1.2" />
<line x1="335.4" y1="314.6" x2="354.3" y2="314.6" stroke="#111" stroke-width="1.6" />
<line x1="335.4" y1="314.6" x2="335.4" y2="337.6" stroke="#111" stroke-width="1.1" />
<line x1="335.4" y1="330.4" x2="354.3" y2="330.4" stroke="#111" stroke-width="1.3" />
<line x1="335.4" y1="337.6" x2="346.8" y2="337.6" stroke="#111" stroke-width="1.0" />
<line x1="346.8" y1="337.6" x2="346.8" y2="360.3" stroke="#111" stroke-width="1.0" />
<rect x="346.2" y="341" width="1.8" height="5" rx="0" fill="#111" stroke="none" stroke-width="1.2" />
<path d="M 354.3 360.3 L 354.3 273 Q 354.3 271.2 356 271.2 L 362 271.2 Q 363.8 271.2 363.8 273 L 363.8 360.3" fill="none" stroke="#111" stroke-width="1.1" />
<path d="M 366.8 360.3 L 366.8 273 Q 366.8 271.2 368.6 271.2 L 377.6 271.2 Q 379.4 271.2 379.4 273 L 379.4 360.3" fill="none" stroke="#111" stroke-width="1.1" />
<line x1="365.3" y1="276" x2="365.3" y2="358" stroke="#111" stroke-width="0.6" />
<rect x="362.7" y="304.3" width="5" height="5.1" rx="0" fill="#111" stroke="none" stroke-width="1.2" />
<rect x="362.7" y="341.5" width="5" height="5" rx="0" fill="#111" stroke="none" stroke-width="1.2" />
<line x1="362.7" y1="287" x2="367.7" y2="287" stroke="#111" stroke-width="0.6" />
<line x1="362.7" y1="318" x2="367.7" y2="318" stroke="#111" stroke-width="0.6" />
<line x1="362.7" y1="333" x2="367.7" y2="333" stroke="#111" stroke-width="0.6" />
<circle cx="373.2" cy="298.2" r="2.7" fill="none" stroke="#111" stroke-width="0.9" />
<circle cx="373.2" cy="314.4" r="2.7" fill="none" stroke="#111" stroke-width="0.9" />
<circle cx="373.2" cy="326.6" r="2.7" fill="none" stroke="#111" stroke-width="0.9" />
<circle cx="379.6" cy="306.9" r="1.2" fill="#111" stroke="none" stroke-width="1.2" />
<line x1="347" y1="360.6" x2="378.7" y2="360.6" stroke="#111" stroke-width="1.8" />
<rect x="379.6" y="274.7" width="6" height="7.1" rx="0" fill="none" stroke="#111" stroke-width="1.1" />
<rect x="385.6" y="271.2" width="3.2" height="14.6" rx="0" fill="none" stroke="#111" stroke-width="1.1" />
<rect x="388.8" y="269.7" width="9.8" height="17.6" rx="0.8" fill="none" stroke="#111" stroke-width="1.5" />
<rect x="379.6" y="348.4" width="6.4" height="7.6" rx="0" fill="none" stroke="#111" stroke-width="1.1" />
<rect x="386" y="344.9" width="3.2" height="14.6" rx="0" fill="none" stroke="#111" stroke-width="1.1" />
<rect x="389.2" y="343.4" width="9.4" height="17.6" rx="0.8" fill="none" stroke="#111" stroke-width="1.5" />
<circle cx="572" cy="300.3" r="25.4" fill="none" stroke="#222" stroke-width="1.0" stroke-dasharray="4.2,1.6"/>
<line x1="570.5" y1="300.3" x2="573.5" y2="300.3" stroke="#111" stroke-width="0.6" />
<line x1="572" y1="298.8" x2="572" y2="301.8" stroke="#111" stroke-width="0.6" />
<rect x="565.5" y="263.9" width="52.4" height="11.7" rx="0" fill="none" stroke="#111" stroke-width="1.4" />
<rect x="569.8" y="261.8" width="4.9" height="2.2" rx="0" fill="#111" stroke="none" stroke-width="1.2" />
<circle cx="613.3" cy="269.4" r="1.8" fill="#111" stroke="none" stroke-width="1.2" />
<rect x="603.4" y="275.6" width="6.5" height="48.3" rx="0" fill="none" stroke="#111" stroke-width="1.0" />
<line x1="606.5" y1="276" x2="606.5" y2="318" stroke="#111" stroke-width="0.6" />
<line x1="603.4" y1="318.3" x2="609.9" y2="318.3" stroke="#111" stroke-width="0.8" />
<path d="M 549.2 314.5 L 549.2 325.6 L 561.5 337.9 L 609.9 337.9 L 609.9 324 L 601.7 324 L 601.7 313.9 L 594 313.9" fill="none" stroke="#111" stroke-width="0.9" />
<path d="M 550.3 315 L 572.1 335.2 L 593.9 315.2" fill="none" stroke="#111" stroke-width="0.9" />
<line x1="549.2" y1="314.5" x2="551" y2="314.5" stroke="#111" stroke-width="0.9" />
<line x1="602.8" y1="318.4" x2="609.9" y2="318.4" stroke="#111" stroke-width="0.8" />
<path d="M 526.2 284 L 526 300 C 525.8 320 526.5 340 527.2 352 C 527.6 357 529.5 358.5 533 358.7 L 545 358.8 L 548 360.8 L 598 360.8 L 601 358.5" fill="none" stroke="#111" stroke-width="1.5" />
<path d="M 541.8 283 L 542.3 318 C 542.5 324 544.5 329 548.6 330.7 C 551.5 331.8 553.6 333.5 555 336 C 556.5 339 558 341 562 342 C 566 343 570 343.5 575 343.7 L 602.5 344.5" fill="none" stroke="#111" stroke-width="1.5" />
<g transform="rotate(0 534.5 278.2)">
<circle cx="534.5" cy="278.2" r="8.8" fill="#0e0e0e" stroke="none" stroke-width="1.2" />
<path d="M 540.41 282.34 A 7.216 7.216 0 0 1 528.59 282.34 L 531.26 280.47 A 3.9600000000000004 3.9600000000000004 0 0 0 537.74 280.47 Z" fill="#fff" stroke="none" stroke-width="1.2" />
<rect x="533.6" y="281.65999999999997" width="1.8" height="4.256" rx="0" fill="#0e0e0e" stroke="none" stroke-width="1.2" />
<circle cx="528.88" cy="276.15" r="0.45" fill="#bbb" stroke="none" stroke-width="1.2" />
<circle cx="530.5" cy="273.75" r="0.45" fill="#bbb" stroke="none" stroke-width="1.2" />
<circle cx="533.05" cy="272.39" r="0.45" fill="#bbb" stroke="none" stroke-width="1.2" />
<circle cx="535.95" cy="272.39" r="0.45" fill="#bbb" stroke="none" stroke-width="1.2" />
<circle cx="538.5" cy="273.75" r="0.45" fill="#bbb" stroke="none" stroke-width="1.2" />
<circle cx="534.5" cy="278.2" r="0.6" fill="#ccc" stroke="none" stroke-width="1.2" />
</g>
<g transform="rotate(20 608.4 352.4)">
<circle cx="608.4" cy="352.4" r="8.9" fill="#0e0e0e" stroke="none" stroke-width="1.2" />
<path d="M 614.38 356.59 A 7.298 7.298 0 0 1 602.42 356.59 L 605.12 354.70 A 4.005 4.005 0 0 0 611.68 354.70 Z" fill="#fff" stroke="none" stroke-width="1.2" />
<rect x="607.5" y="355.905" width="1.8" height="4.293" rx="0" fill="#0e0e0e" stroke="none" stroke-width="1.2" />
<circle cx="602.71" cy="350.33" r="0.45" fill="#bbb" stroke="none" stroke-width="1.2" />
<circle cx="604.35" cy="347.9" r="0.45" fill="#bbb" stroke="none" stroke-width="1.2" />
<circle cx="606.94" cy="346.53" r="0.45" fill="#bbb" stroke="none" stroke-width="1.2" />
<circle cx="609.86" cy="346.53" r="0.45" fill="#bbb" stroke="none" stroke-width="1.2" />
<circle cx="612.45" cy="347.9" r="0.45" fill="#bbb" stroke="none" stroke-width="1.2" />
<circle cx="608.4" cy="352.4" r="0.6" fill="#ccc" stroke="none" stroke-width="1.2" />
</g>
<ellipse cx="535.1" cy="306.4" rx="6.4" ry="1.5" fill="#111" stroke="none" stroke-width="1.2" />
<ellipse cx="535.1" cy="306.4" rx="2.6" ry="2.6" fill="#111" stroke="none" stroke-width="1.2" />
<line x1="531" y1="306.4" x2="539" y2="306.4" stroke="#fff" stroke-width="0.5" />
<g transform="rotate(45 541.8 345.5)">
<ellipse cx="541.8" cy="345.5" rx="6.6" ry="1.5" fill="#111" stroke="none" stroke-width="1.2" />
<ellipse cx="541.8" cy="345.5" rx="2.6" ry="2.6" fill="#111" stroke="none" stroke-width="1.2" />
<line x1="537.5" y1="345.5" x2="546" y2="345.5" stroke="#fff" stroke-width="0.5" />
</g>
<ellipse cx="580.5" cy="352.5" rx="1.5" ry="6.6" fill="#111" stroke="none" stroke-width="1.2" />
<ellipse cx="580.5" cy="352.5" rx="2.7" ry="3.2" fill="#111" stroke="none" stroke-width="1.2" />
<line x1="580.5" y1="348.5" x2="580.5" y2="356.5" stroke="#fff" stroke-width="0.5" />
<circle cx="548.6" cy="338" r="2.6" fill="none" stroke="#111" stroke-width="0.8" />
<polygon points="84.3,71.5 84.3,40 82.8,38.5 81.5,39.8 76,40.5 71.5,37 69.5,30 71,24 75,21 79,20.4 82,21 84.5,23 86.5,26.5 88,29.2 91.7,29.3 111.8,39.8 111.8,95.5 116.3,99.2 116.3,105.6 108.6,110.7 108.6,123.5 66.4,143.5 54,138.5 54,139 49,141.7 32.1,133 29,130 23,130.2 18.5,126 17,118 19.5,112.5 24,110.9 29,112.5 34,117 37,119.5 42.4,121 42.4,108.6 47.9,106 49.4,105.5 49.4,97.3 55.7,94.2 56.1,85.9 62.8,82.5 62.8,69 68.8,69 68.8,79.5 87,69.6 92,68.5 96.8,70 96.8,71.5" fill="#2c2c34" stroke="none" stroke-width="1" />
<polygon points="84.3,38.5 91.7,29.3 111.8,39.8 111.8,96 104,100 84.3,100" fill="#2c2c34" stroke="none" stroke-width="1" />
<polygon points="93.1,40 95.2,41 95.2,100 93.1,100" fill="#4a4a68" stroke="none" stroke-width="1" />
<polygon points="101.8,46 111.8,40.5 111.8,97 101.8,100" fill="#4b4b62" stroke="none" stroke-width="1" />
<line x1="101.8" y1="46" x2="101.8" y2="92" stroke="#1c1c22" stroke-width="0.9" />
<line x1="84.3" y1="50" x2="102.7" y2="54" stroke="#1e1e26" stroke-width="0.7" />
<line x1="84.3" y1="62" x2="102.7" y2="66" stroke="#1e1e26" stroke-width="0.7" />
<ellipse cx="87.3" cy="56.3" rx="2.2" ry="2.8" fill="#6a6a92" stroke="none" stroke-width="1.2" />
<ellipse cx="87.8" cy="57" rx="1.6" ry="2.2" fill="#3a3a50" stroke="none" stroke-width="1.2" />
<ellipse cx="107.5" cy="55.5" rx="1.0" ry="1.3" fill="#24242c" stroke="none" stroke-width="1.2" />
<ellipse cx="106.6" cy="69.3" rx="2.0" ry="3.0" fill="none" stroke="#1e1e24" stroke-width="0.8" transform="rotate(25 106.6 69.3)"/>
<polygon points="82.8,33.5 91.7,29.3 111.6,39.8 111.6,41.2 103.4,46.5 85,39.5" fill="#2c2c32" stroke="none" stroke-width="1" />
<line x1="85.75" y1="37.62" x2="105.0" y2="44.88" stroke="#3c3c44" stroke-width="0.8" />
<line x1="87.5" y1="36.25" x2="107.0" y2="43.75" stroke="#3c3c44" stroke-width="0.8" />
<line x1="89.25" y1="34.88" x2="109.0" y2="42.62" stroke="#3c3c44" stroke-width="0.8" />
<path d="M 95.5 36.5 Q 93.8 40 94.5 45" fill="none" stroke="#c0846a" stroke-width="0.7" />
<path d="M 96.3 36 Q 98 35 99 36" fill="none" stroke="#6a6a92" stroke-width="0.6" />
<polygon points="83.6,29.8 91,28.9 93,37 85.5,39.3" fill="#333338" stroke="none" stroke-width="1" />
<line x1="84.5" y1="32.5" x2="92" y2="31.5" stroke="#45454c" stroke-width="0.8" />
<line x1="84.8" y1="35.5" x2="92.5" y2="34.5" stroke="#45454c" stroke-width="0.8" />
<ellipse cx="83.2" cy="33.6" rx="1.9" ry="5.6" fill="#2e2e34" stroke="#7474a8" stroke-width="0.8" transform="rotate(-12 83.2 33.6)"/>
<ellipse cx="80.4" cy="30.8" rx="3.2" ry="8.7" fill="#3e3e42" stroke="#2a2a2e" stroke-width="0.5" transform="rotate(-12 80.4 30.8)"/>
<ellipse cx="81.2" cy="31" rx="1.6" ry="7.2" fill="#55555c" stroke="none" stroke-width="1.2" transform="rotate(-12 81.2 31)"/>
<path d="M 78.3 20.1 C 72 20.5 69.3 26 69.5 31 C 69.7 36 73 39.8 77.8 39.7 C 80 39.2 81.2 35 81 30 C 80.8 25 80 21 78.3 20.1 Z" fill="#141414" stroke="none" stroke-width="1.2" />
<polygon points="42.4,108.6 65.8,122.5 66.4,143.5 42.4,130.5" fill="#2c2c32" stroke="none" stroke-width="1" />
<polygon points="65.8,122.5 108.6,103.5 116.3,99.2 116.3,105.6 108.6,110.7 108.6,123.5 66.4,143.5" fill="#4a4c62" stroke="none" stroke-width="1" />
<line x1="65.8" y1="122.5" x2="66.4" y2="143.5" stroke="#1a1a20" stroke-width="0.6" />
<line x1="65.8" y1="131" x2="108.6" y2="112" stroke="#1a1a20" stroke-width="0.6" />
<polygon points="42.4,108.6 47.9,106 72,117.5 65.8,122.5" fill="#3a3a42" stroke="none" stroke-width="1" />
<line x1="42.4" y1="108.6" x2="65.8" y2="122.5" stroke="#1a1a20" stroke-width="0.6" />
<ellipse cx="69.5" cy="137" rx="1.6" ry="1.9" fill="#101014" stroke="none" stroke-width="1.2" />
<ellipse cx="103.5" cy="116" rx="1.6" ry="1.8" fill="#101014" stroke="none" stroke-width="1.2" />
<ellipse cx="47.5" cy="109" rx="1.4" ry="0.8" fill="#202028" stroke="none" stroke-width="1.2" />
<polygon points="95,88 108.6,87 116.3,99.2 108.6,103.5 92,110" fill="#3a3a4a" stroke="none" stroke-width="1" />
<polygon points="108.6,90.2 116.3,99.2 116.3,105.6 108.6,110.7" fill="#34344a" stroke="none" stroke-width="1" />
<polygon points="49.4,97.3 55.7,94.2 80,106 80,114 72,117.5 49.4,106" fill="#2e2e34" stroke="none" stroke-width="1" />
<polygon points="49.4,97.3 55.7,94.2 70,101 62.8,104" fill="#3a3a42" stroke="none" stroke-width="1" />
<line x1="49.4" y1="97.3" x2="62.8" y2="104" stroke="#1a1a20" stroke-width="0.6" />
<polygon points="70.9,101.7 93.9,114.5 88,118 70,108" fill="#2a2a30" stroke="none" stroke-width="1" />
<path d="M 70.9 102.4 L 72.2 97.9 C 77 92 82 88.5 88.8 86.4 L 98.4 85.1 L 108.6 90.9 L 93.9 114.5 Z" fill="#393939" stroke="none" stroke-width="1.2" />
<path d="M 56.1 85.9 L 60.1 83.9 C 68 80 78 73 87 69.6 C 92 68.3 96.7 69.5 96.8 73.5 L 96.8 80.5 C 88 82.5 81 86 76 91 C 73 94 71 97.5 69 100 L 56.5 98.1 Z" fill="#55557a" stroke="none" stroke-width="1.2" />
<path d="M 56.1 85.9 L 60.1 83.9 C 68 80 78 73 87 69.6 C 92 68.3 96.7 69.5 96.8 73.5 C 90 74 82 78 75 83 C 69 87 64 89 58.9 90.2 Z" fill="#2e2e36" stroke="none" stroke-width="1.2" />
<path d="M 56.1 85.9 L 58.9 90.2 L 59 98.4 L 56.5 98.1 Z" fill="#24242a" stroke="none" stroke-width="1.2" />
<ellipse cx="91.5" cy="71.5" rx="2" ry="1.2" fill="#5a5a78" stroke="none" stroke-width="1.2" />
<rect x="62.8" y="69" width="6.0" height="51.5" rx="0" fill="#c6c6ca" stroke="none" stroke-width="1.2" />
<rect x="62.8" y="69" width="1.5" height="51.5" rx="0" fill="#dedee2" stroke="none" stroke-width="1.2" />
<rect x="67.4" y="69" width="1.4" height="51.5" rx="0" fill="#a2a2ac" stroke="none" stroke-width="1.2" />
<ellipse cx="65.8" cy="69.4" rx="3.0" ry="1.5" fill="#e0e0e2" stroke="#7a7a80" stroke-width="0.4" />
<ellipse cx="65.9" cy="118.5" rx="3.0" ry="1.3" fill="#e6e6e8" stroke="#999" stroke-width="0.3" />
<path d="M 58.9 90.2 C 62 89.5 66 88.5 70 87.5 L 70 98 C 67 99.5 63 99.5 59 98.4 Z" fill="#303038" stroke="none" stroke-width="1.2" />
<circle cx="66" cy="95.6" r="2.7" fill="#18181c" stroke="#3a3a46" stroke-width="0.5" />
<polygon points="32,121 36.5,120.3 55.9,128.5 55.9,140 51.4,142.7 32,130.7" fill="#2a2a30" stroke="none" stroke-width="1" />
<line x1="33" y1="125.4" x2="55" y2="133.4" stroke="#3c3c44" stroke-width="0.8" />
<line x1="33" y1="127.8" x2="55" y2="135.8" stroke="#3c3c44" stroke-width="0.8" />
<path d="M 45.5 127.5 Q 42.8 133 44.5 140.5" fill="none" stroke="#c0846a" stroke-width="0.7" />
<path d="M 43 127 Q 44.5 125 47 125.5" fill="none" stroke="#6a6a92" stroke-width="0.7" />
<polygon points="50.5,130 55.9,132 55.9,140 51.4,142.7 50.5,142" fill="#4a4a68" stroke="none" stroke-width="1" />
<polygon points="31,120.5 37,119.5 38,128 32.5,130" fill="#333338" stroke="none" stroke-width="1" />
<ellipse cx="31.2" cy="123.5" rx="1.9" ry="5.6" fill="#2e2e34" stroke="#7474a8" stroke-width="0.8" transform="rotate(-14 31.2 123.5)"/>
<ellipse cx="28.3" cy="120.8" rx="3.2" ry="8.5" fill="#3e3e42" stroke="#2a2a2e" stroke-width="0.5" transform="rotate(-14 28.3 120.8)"/>
<ellipse cx="29.1" cy="121" rx="1.6" ry="7" fill="#55555c" stroke="none" stroke-width="1.2" transform="rotate(-14 29.1 121)"/>
<path d="M 25.2 110.9 C 19.5 111.5 16.8 116 17 120.5 C 17.2 125.5 20 129.3 25.2 129.2 C 27.5 128.8 29 124.5 28.9 120 C 28.8 115.5 27.5 111.5 25.2 110.9 Z" fill="#141414" stroke="none" stroke-width="1.2" />
<path d="M 543.2 29.8 L 563.4 18.9 L 566.5 19.2 L 571.3 24.8 L 571.8 60 L 590.4 54.7 L 606 81 L 621.3 72.6 L 625.1 74.8 L 633.5 86 L 633.5 100.1 L 624.2 104.8 L 624.2 123.5 L 604.5 133.3 L 599.1 135 L 596 141 L 589.7 143.2 L 583 140 L 581.4 133 L 583 126 L 575 120.5 L 557.7 110.5 L 549 104 L 545.9 99.6 L 543.5 93.7 Z" fill="#2a2a30" stroke="none" stroke-width="1.2" />
<polygon points="554.7,36.8 563,32.7 563,80 561,84 554.7,82" fill="#4e4e76" stroke="none" stroke-width="1" />
<polygon points="564.8,30.9 571.3,28 571.5,66 564.8,70" fill="#4e4e76" stroke="none" stroke-width="1" />
<polygon points="563,30 564.8,29.5 564.8,80 563,80" fill="#26262c" stroke="none" stroke-width="1" />
<line x1="554.7" y1="47" x2="563" y2="42.5" stroke="#24242c" stroke-width="0.7" />
<line x1="554.7" y1="60" x2="563" y2="55.5" stroke="#24242c" stroke-width="0.7" />
<line x1="564.8" y1="41.5" x2="571.3" y2="38.5" stroke="#24242c" stroke-width="0.7" />
<line x1="564.8" y1="64" x2="571.3" y2="61" stroke="#24242c" stroke-width="0.7" />
<ellipse cx="559.3" cy="53.4" rx="3.2" ry="4.3" fill="#26262c" stroke="none" stroke-width="1.2" transform="rotate(-15 559.3 53.4)"/>
<ellipse cx="559.3" cy="66.5" rx="3.2" ry="4.3" fill="#26262c" stroke="none" stroke-width="1.2" transform="rotate(-15 559.3 66.5)"/>
<ellipse cx="561.2" cy="77.3" rx="3.2" ry="4.3" fill="#26262c" stroke="none" stroke-width="1.2" transform="rotate(-15 561.2 77.3)"/>
<polygon points="543.2,29.8 563.4,18.9 566.5,19.2 571.3,24.8 571.3,28 564.8,30.9 563,32.7 554.7,36.8 547,33.5" fill="#303036" stroke="none" stroke-width="1" />
<line x1="550" y1="28" x2="566" y2="20.5" stroke="#3c3c44" stroke-width="0.7" />
<line x1="551" y1="31.5" x2="569" y2="23" stroke="#3c3c44" stroke-width="0.7" />
<polygon points="561,84 564,82 600,101.5 612,108 609,110 576,93 563.6,88" fill="#3e3e58" stroke="none" stroke-width="1" />
<ellipse cx="567.5" cy="91.2" rx="3.6" ry="2.4" fill="#24242c" stroke="#44446a" stroke-width="0.5" transform="rotate(25 567.5 91.2)"/>
<ellipse cx="577.5" cy="97.5" rx="3.6" ry="2.4" fill="#24242c" stroke="#44446a" stroke-width="0.5" transform="rotate(25 577.5 97.5)"/>
<ellipse cx="588" cy="103.8" rx="3.6" ry="2.4" fill="#24242c" stroke="#44446a" stroke-width="0.5" transform="rotate(25 588 103.8)"/>
<polygon points="567.8,65.5 590.4,54.7 606,81 580.4,93" fill="#38383e" stroke="none" stroke-width="1" />
<polygon points="566.5,68 567.8,65.5 580.4,93 577.5,94.5 566.5,74" fill="#26262c" stroke="none" stroke-width="1" />
<polygon points="580.4,93 606,81 607,86 590,98" fill="#2c2c34" stroke="none" stroke-width="1" />
<polygon points="599.1,85.6 621.3,72.6 625.1,74.8 603.4,87.8" fill="#2a2a32" stroke="none" stroke-width="1" />
<polygon points="603.4,87.8 625.1,74.8 625.6,85.6 605,93.7" fill="#45455e" stroke="none" stroke-width="1" />
<polygon points="605,93.7 625.6,85.6 632.6,86.7 610.4,96" fill="#32323a" stroke="none" stroke-width="1" />
<polygon points="610.4,96 632.6,86.7 632.6,99.3 611.3,109.8" fill="#3e3e54" stroke="none" stroke-width="1" />
<polygon points="599.1,85.6 603.4,87.8 605,93.7 610.4,96 611.3,109.8 600,104" fill="#2c2c34" stroke="none" stroke-width="1" />
<ellipse cx="609.5" cy="97.8" rx="1.5" ry="0.9" fill="#22222a" stroke="#4a4a5a" stroke-width="0.3" />
<polygon points="619.2,104.8 624.2,102.5 624.2,117.6 619.2,117.6" fill="#33333c" stroke="none" stroke-width="1" />
<path d="M 597.5 40 C 598 36.5 601 35 604.5 35.3 C 609 35.8 613 38 618 41 C 621 43 623.5 46.5 625.6 49.5 L 625.6 58 C 619 55 613 53 606 51.5 C 601 50.8 598 50 597.3 48.5 Z" fill="#28282e" stroke="none" stroke-width="1.2" />
<path d="M 597.8 44 C 601 46 607 47 613 48.5 C 618 50 622 52 625.6 54 L 625.6 58 C 619 55 613 53 606 51.5 C 601 50.8 598 50 597.3 48.5 Z" fill="#34343e" stroke="none" stroke-width="1.2" />
<ellipse cx="603.6" cy="39.2" rx="5.4" ry="3" fill="#383842" stroke="none" stroke-width="1.2" transform="rotate(8 603.6 39.2)"/>
<ellipse cx="603.4" cy="38.7" rx="1.9" ry="1.1" fill="#5a5a6e" stroke="none" stroke-width="1.2" />
<rect x="625.6" y="37" width="6.4" height="51.3" rx="0" fill="#c6c6ca" stroke="none" stroke-width="1.2" />
<rect x="625.6" y="37" width="1.6" height="51.3" rx="0" fill="#e0e0e4" stroke="none" stroke-width="1.2" />
<rect x="630.4" y="37" width="1.6" height="51.3" rx="0" fill="#a4a4ae" stroke="none" stroke-width="1.2" />
<ellipse cx="628.8" cy="37.3" rx="3.2" ry="1.5" fill="#e2e2e4" stroke="#7a7a80" stroke-width="0.4" />
<ellipse cx="628.8" cy="86.8" rx="3.2" ry="1.3" fill="#e6e6e8" stroke="#999" stroke-width="0.3" />
<path d="M 624.5 52.5 L 634 50.5 C 638.5 50 640.5 54 640 58 C 639.5 62 637 65.5 633 67.5 L 627 68 C 625 67.5 624.5 66 624.5 64 Z" fill="#22222a" stroke="none" stroke-width="1.2" />
<path d="M 634 50.5 C 638.5 50 640.5 54 640 58 C 639.5 62 637 65.5 635 66.5 C 636.5 62 636.5 55 634 50.5 Z" fill="#33333e" stroke="none" stroke-width="1.2" />
<circle cx="627.6" cy="63.2" r="1.1" fill="#7a7a8a" stroke="none" stroke-width="1.2" />
<polygon points="543,33.5 552,29.5 556,36 556,45 552,49 544.5,45" fill="#2a2a30" stroke="none" stroke-width="1" />
<path d="M 548.5 33 Q 551 37 550 44" fill="none" stroke="#b07a5a" stroke-width="0.7" />
<ellipse cx="546.5" cy="39" rx="1.8" ry="6" fill="#34343e" stroke="#66668a" stroke-width="0.5" transform="rotate(-20 546.5 39)"/>
<polygon points="537,34.5 542.5,33 546.5,36.5 546.5,47 542,52 537,52.5" fill="#141414" stroke="none" stroke-width="1" />
<ellipse cx="536.8" cy="43.5" rx="7.3" ry="9.3" fill="#141414" stroke="none" stroke-width="1.2" transform="rotate(-22 536.8 43.5)"/>
<ellipse cx="536.3" cy="44" rx="3.3" ry="4.2" fill="#26262c" stroke="#5a5a62" stroke-width="0.6" transform="rotate(-22 536.3 44)"/>
<ellipse cx="536.2" cy="44" rx="1.2" ry="1.5" fill="#8080a0" stroke="none" stroke-width="1.2" />
<polygon points="597.6,122.5 624.2,110 624.2,123.5 604.5,133.3" fill="#2c2c34" stroke="none" stroke-width="1" />
<polygon points="607,121 615,117.3 615,122.5 608,126" fill="#55557c" stroke="none" stroke-width="1" />
<polygon points="617.5,116 623,113.5 623,119 618,121.5" fill="#55557c" stroke="none" stroke-width="1" />
<path d="M 600.5 121.5 Q 603 126 601.5 132" fill="none" stroke="#b07a5a" stroke-width="0.7" />
<ellipse cx="599" cy="127.5" rx="1.8" ry="5.5" fill="#34343e" stroke="#66668a" stroke-width="0.5" transform="rotate(-20 599 127.5)"/>
<polygon points="589,124 595,123.5 599.1,127 599.1,136 594,141.5 589,142" fill="#141414" stroke="none" stroke-width="1" />
<ellipse cx="589.7" cy="133.3" rx="8.2" ry="9.6" fill="#141414" stroke="none" stroke-width="1.2" transform="rotate(-15 589.7 133.3)"/>
<ellipse cx="588.8" cy="134" rx="3.3" ry="4.2" fill="#26262c" stroke="#5a5a62" stroke-width="0.6" transform="rotate(-15 588.8 134)"/>
<ellipse cx="588.7" cy="134" rx="1.2" ry="1.5" fill="#8080a0" stroke="none" stroke-width="1.2" />
<line x1="546" y1="57.5" x2="552.5" y2="61" stroke="#e0e0e0" stroke-width="0.9" />
<line x1="548.5" y1="57.5" x2="549.5" y2="61.5" stroke="#e0e0e0" stroke-width="0.7" />
<line x1="550" y1="90.5" x2="555.5" y2="96.5" stroke="#e0e0e0" stroke-width="0.9" />
<line x1="552" y1="94" x2="554" y2="92.5" stroke="#e0e0e0" stroke-width="0.7" />
<line x1="581.5" y1="111" x2="581.5" y2="118" stroke="#e0e0e0" stroke-width="0.9" />
<line x1="580" y1="114.5" x2="583" y2="114" stroke="#e0e0e0" stroke-width="0.7" />
<circle cx="558" cy="85.5" r="1.3" fill="#55557a" stroke="none" stroke-width="1.2" /></svg>
</body></html>
